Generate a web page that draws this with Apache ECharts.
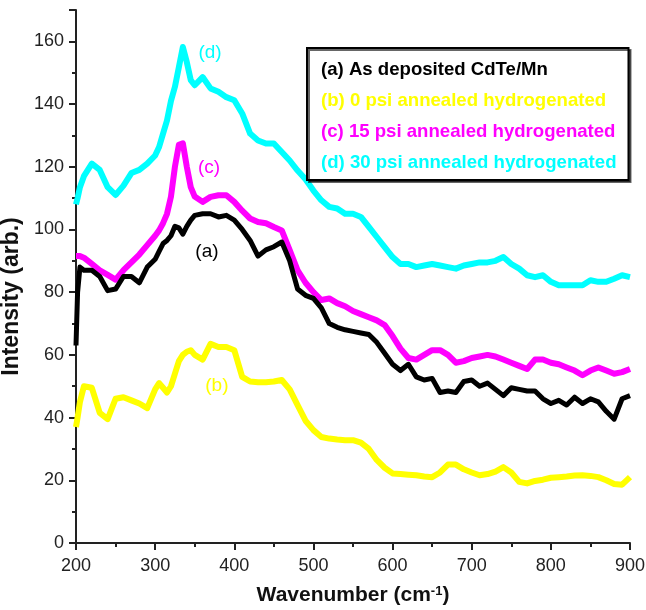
<!DOCTYPE html>
<html>
<head>
<meta charset="utf-8">
<script src="https://cdn.jsdelivr.net/npm/echarts@6/dist/echarts.min.js"></script>
<style>
html,body{margin:0;padding:0;background:#fff;}
#chart{width:646px;height:610px;}
</style>
</head>
<body>
<div id="chart"></div>
<script>
var wavenumbers = [200,202,205,210,220,230,240,250,260,270,280,290,300,305,310,315,320,325,330,335,340,345,350,360,370,380,390,400,410,420,430,440,450,460,470,480,490,500,510,520,530,540,550,560,570,580,590,600,610,620,630,640,650,660,670,680,690,700,710,720,730,740,750,760,770,780,790,800,810,820,830,840,850,860,870,880,890,900];

var seriesA = [63,80,88,87,87,85,80.5,81,85,85,83,88,90.5,93,95.5,96.5,98,101,100.5,98.5,101,103,104.5,105,105,104,104.5,103,100,96.5,91.5,93.5,94.5,96,90,81,79,78,75,70,68.8,68,67.5,67,66.5,64,60.5,57,55,57,53,52,52.5,48,48.5,48,51.5,52,50,51,49,47,49.5,49,48.5,48.5,46,44.5,45.5,44,46.5,44.5,46,45,42,39.5,46,47];

var seriesB = [37,40,45,50,49.5,41.5,39.5,46,46.5,45.5,44.5,43,49,51,49.5,48,50,54,58,60,61,61.5,60,58.5,63.5,62.5,62.5,61.5,53,51.5,51.3,51.3,51.5,52,49,44,39,36,33.8,33.3,33,32.8,32.8,32,30,26.5,24,22.2,22,21.8,21.6,21.2,21,22.5,25,25,23.5,22.5,21.6,22,22.8,24.2,22.5,19.5,19,19.8,20.2,20.8,21,21.2,21.5,21.6,21.4,21,20,18.8,18.6,21];

var seriesC = [91.5,91.5,91.5,91,89,87,85.5,84,87,89.5,92,95,98,99.7,102,105,110.5,120,127,127.5,120,113.5,110.5,108.8,110.4,110.9,110.9,108.8,106,103.5,102.4,102,100.8,99.7,93.4,87,83,80,77.5,78,76.5,75.5,74,73,72,71,69.5,66,62,59,58.5,60,61.5,61.5,60,57.5,58,59,59.5,60,59.5,58.5,57.5,56.5,55.5,58.5,58.5,57.5,57,56,55,53.5,55,56,55,54,54.5,55.5];

var seriesD = [108,110,113.5,117,121,119,113.5,111,114,118,119,121,123.6,126.3,130.6,134.8,141,145.5,151.8,158.2,153.4,147.6,146,148.6,145,143.9,142.2,141.2,137,130.6,128.4,127.4,127.4,124.7,122,118.8,116,112.4,109.3,107.2,106.7,105,105,104,100.8,97.6,94.4,91.2,89,89,88,88.5,89,88.5,88,87.5,88.5,89,89.5,89.5,90,91.2,89,87.5,85.4,84.8,85.4,83.3,82.2,82.2,82.2,82.2,83.8,83.3,83.3,84.3,85.4,84.8];

var seriesNames = ['(a) As deposited CdTe/Mn','(b) 0 psi annealed hydrogenated','(c) 15 psi annealed hydrogenated','(d) 30 psi annealed hydrogenated'];
var seriesColors = ['#000000','#ffff00','#ff00ff','#00ffff'];
var tagLabels = ['(a)','(b)','(c)','(d)'];
var tagPositions = [[365.5,93],[378,50],[368,119.8],[369.3,156.5]];
var xTicks = [200,300,400,500,600,700,800,900];
var yTicks = [0,20,40,60,80,100,120,140,160];

var allValues = [seriesA, seriesB, seriesC, seriesD];
var lineWidths = [5,6,6,6];

function pairs(vals){
  return wavenumbers.map(function(x,i){return [x, vals[i]];});
}

var chart = echarts.init(document.getElementById('chart'), null, {renderer:'canvas'});
var font = 'Liberation Sans, Arial, sans-serif';

var series = [];
var drawOrder = [3,1,2,0];
drawOrder.forEach(function(i){
  series.push({
    name: seriesNames[i],
    type: 'line',
    data: pairs(allValues[i]),
    showSymbol: false,
    symbol: 'none',
    lineStyle: {color: seriesColors[i], width: lineWidths[i], join: 'round'},
    itemStyle: {color: seriesColors[i]},
    animation: false,
    z: 2,
    markPoint: {
      symbol: 'circle',
      symbolSize: 0,
      silent: true,
      data: [{coord: tagPositions[i], value: tagLabels[i]}],
      label: {show: true, position: 'inside', formatter: tagLabels[i], color: seriesColors[i], fontSize: 19, fontFamily: font}
    }
  });
});

chart.setOption({
  backgroundColor: '#ffffff',
  animation: false,
  grid: {left: 76, right: 16, top: 10, bottom: 67, containLabel: false, outerBoundsMode: 'none'},
  legend: {
    show: true,
    orient: 'vertical',
    left: 307,
    top: 48,
    icon: 'none',
    itemWidth: 0,
    itemHeight: 18,
    itemGap: 12,
    padding: [12, 12, 8, 9],
    borderColor: '#000',
    borderWidth: 2,
    backgroundColor: '#fff',
    shadowColor: 'rgba(0,0,0,0.6)',
    shadowOffsetX: 2,
    shadowOffsetY: 2,
    shadowBlur: 0,
    selectedMode: false,
    data: seriesNames.map(function(n,i){
      return {name: n, textStyle: {color: seriesColors[i], fontWeight: 'bold', fontSize: 18.6, fontFamily: font}};
    }),
    textStyle: {fontWeight: 'bold', fontSize: 18.6, fontFamily: font}
  },
  xAxis: {
    type: 'value',
    min: 200, max: 900, interval: 100,
    name: 'Wavenumber (cm{sup|-1})',
    nameLocation: 'middle',
    nameGap: 42,
    nameTextStyle: {
      fontSize: 21, fontWeight: 'bold', color: '#111', fontFamily: font,
      rich: {sup: {fontSize: 13, fontWeight: 'bold', color: '#111', verticalAlign: 'top', padding: [0,0,8,0], fontFamily: font}}
    },
    axisLine: {show: true, lineStyle: {color: '#222', width: 2}},
    axisTick: {show: true, length: 7, lineStyle: {color: '#222', width: 2}},
    minorTick: {show: true, splitNumber: 2, length: 4, lineStyle: {color: '#222', width: 2}},
    splitLine: {show: false},
    minorSplitLine: {show: false},
    axisLabel: {fontSize: 18, color: '#222', margin: 14, fontFamily: font,
      formatter: function(v){ return xTicks.indexOf(v) >= 0 ? String(v) : ''; }}
  },
  yAxis: {
    type: 'value',
    min: 0, max: 170, interval: 20,
    name: 'Intensity (arb.)',
    nameLocation: 'middle',
    nameGap: 44,
    nameTextStyle: {fontSize: 23, fontWeight: 'bold', color: '#111', fontFamily: font, padding: [0, 40, 0, 0]},
    axisLine: {show: true, lineStyle: {color: '#222', width: 2}},
    axisTick: {show: true, length: 7, lineStyle: {color: '#222', width: 2}},
    minorTick: {show: true, splitNumber: 2, length: 4, lineStyle: {color: '#222', width: 2}},
    splitLine: {show: false},
    minorSplitLine: {show: false},
    axisLabel: {fontSize: 18, color: '#222', margin: 12, fontFamily: font, showMaxLabel: false,
      formatter: function(v){ return yTicks.indexOf(v) >= 0 ? String(v) : ''; }}
  },
  series: series
});
</script>
</body>
</html>
